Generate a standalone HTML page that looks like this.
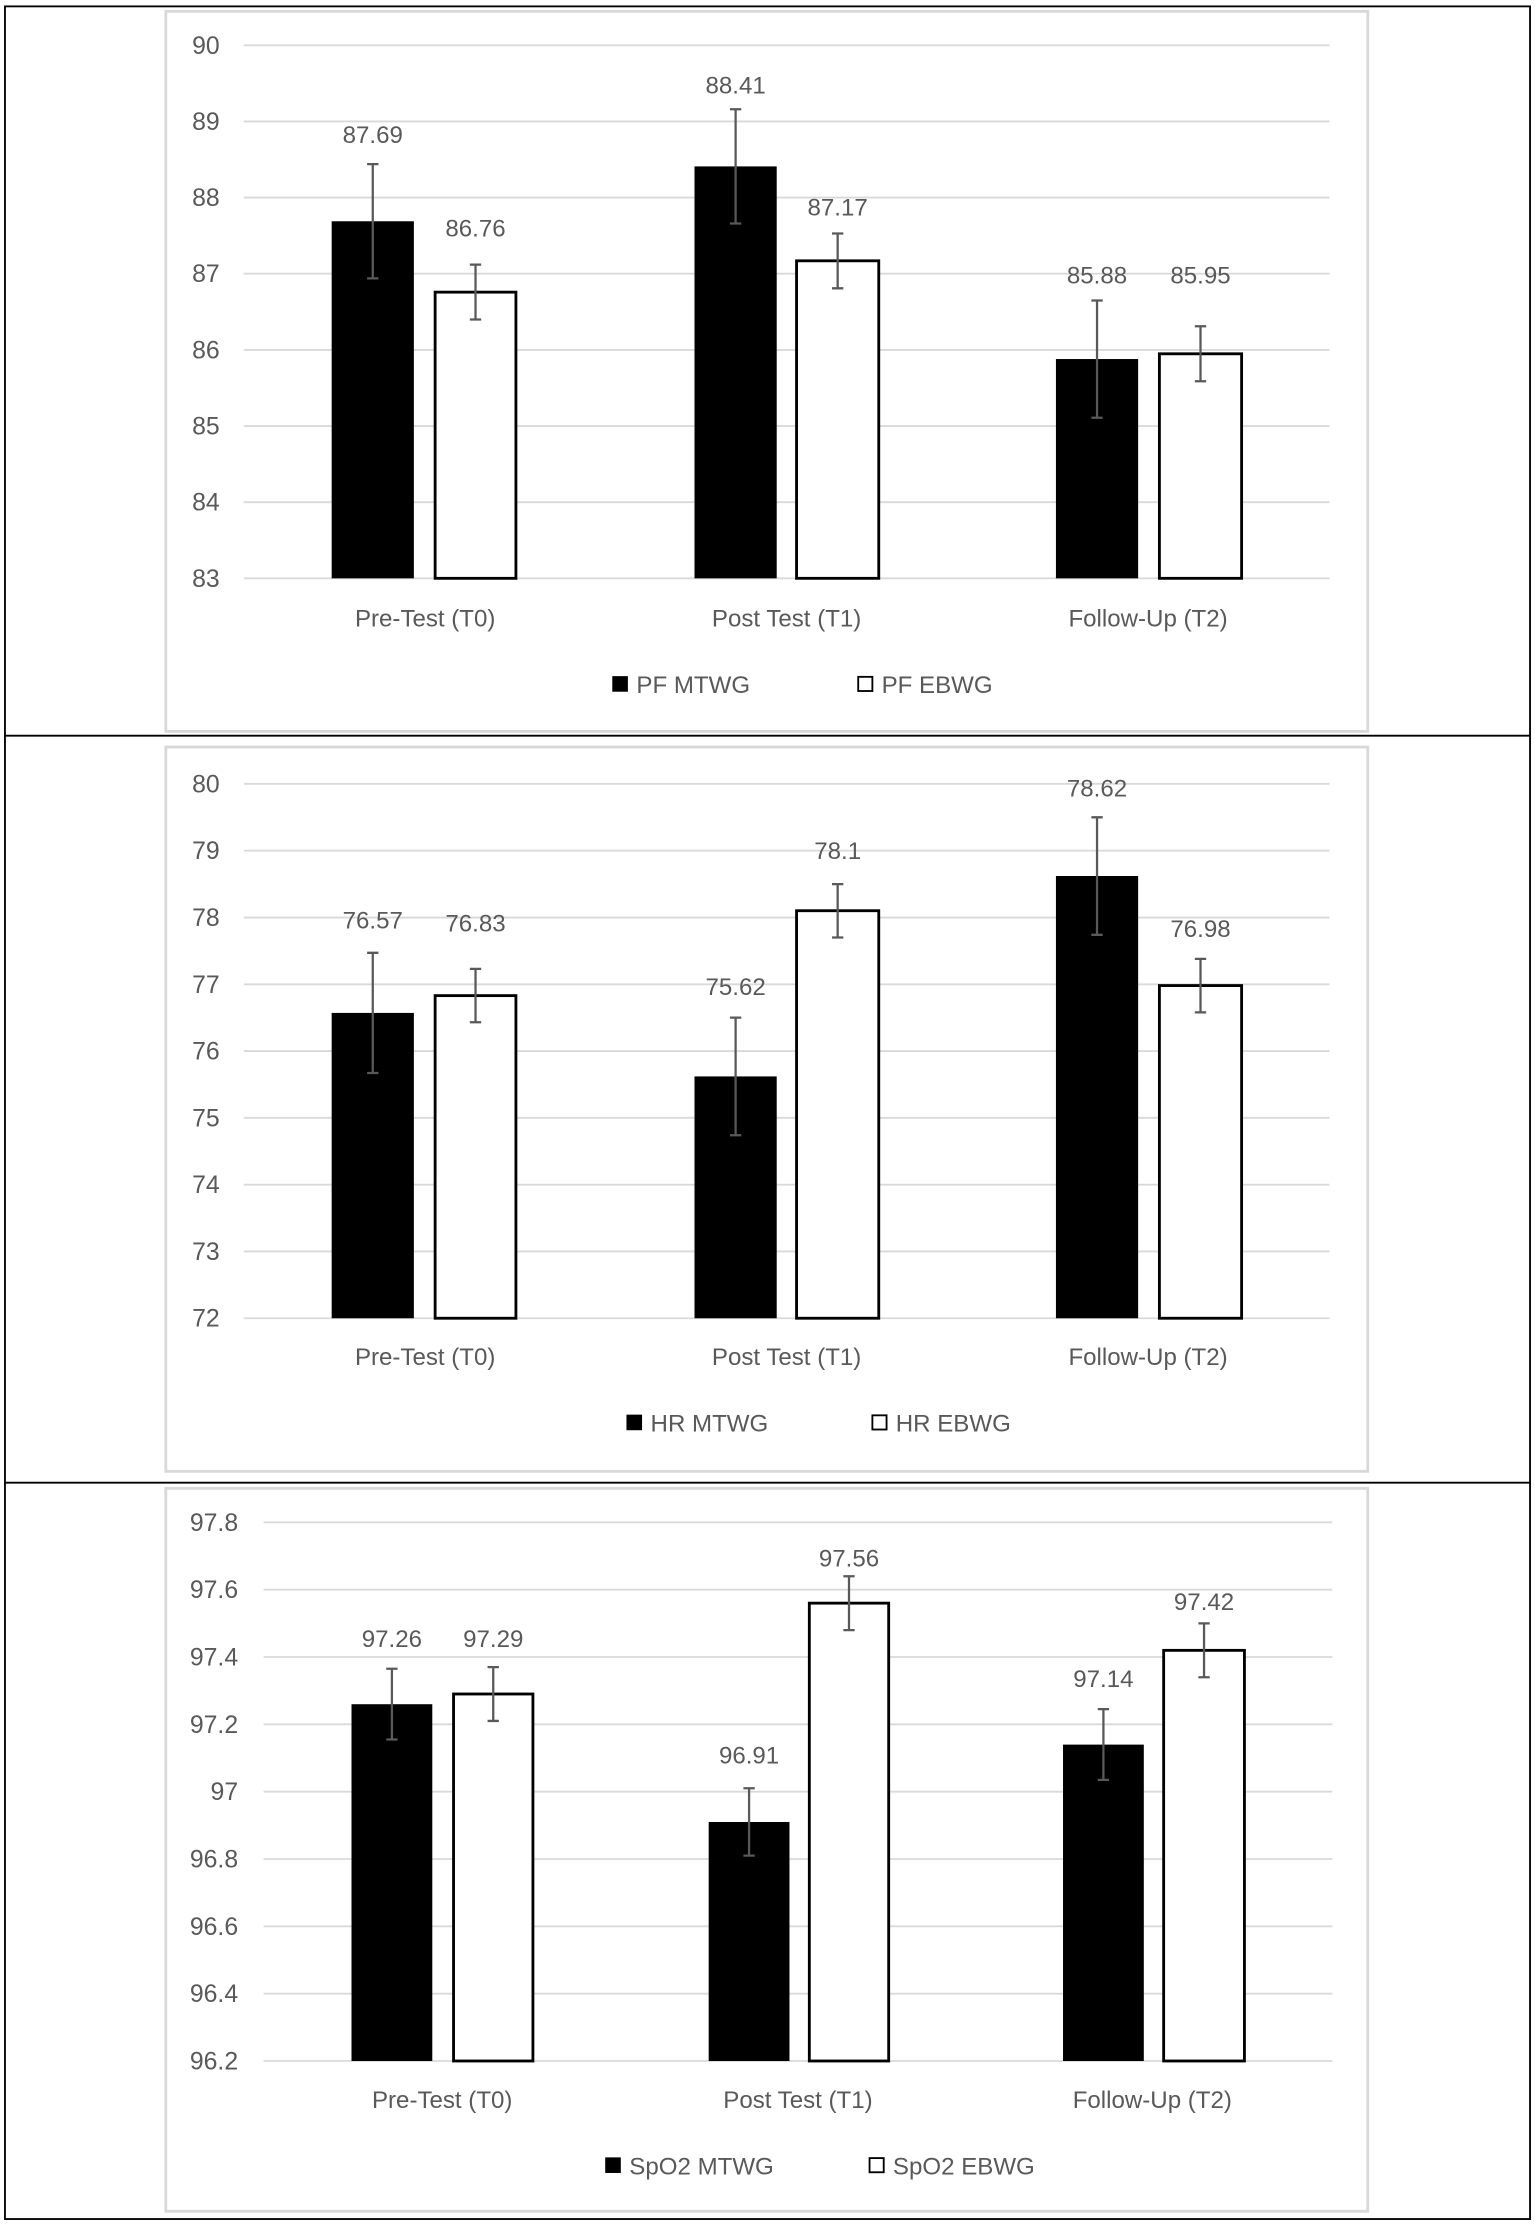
<!DOCTYPE html>
<html><head><meta charset="utf-8"><style>
html,body{margin:0;padding:0;background:#fff;}
svg{display:block;}
text{font-family:"Liberation Sans",sans-serif;fill:#595959;font-size:17px;}
.t{text-anchor:end;font-size:17.5px;}
.c{text-anchor:middle;}
.g{stroke:#d9d9d9;stroke-width:1.3;}
.b{fill:#000;}
.w{fill:#fff;stroke:#000;stroke-width:2;}
.e{stroke:#595959;stroke-width:1.6;fill:none;}
.box{fill:none;stroke:#d9d9d9;stroke-width:2;}
</style></head><body>
<svg width="1535" height="2224" viewBox="0 0 1083 1569" preserveAspectRatio="none">
<rect x="3.5" y="4.5" width="1076" height="1561" fill="none" stroke="#000" stroke-width="1.3"/>
<line x1="3" y1="519" x2="1080" y2="519" stroke="#000" stroke-width="1.3"/>
<line x1="3" y1="1046" x2="1080" y2="1046" stroke="#000" stroke-width="1.3"/>

<!-- Chart 1 -->
<rect class="box" x="117" y="8" width="848" height="508"/>
<g>
<line class="g" x1="172" y1="32" x2="938" y2="32"/><line class="g" x1="172" y1="85.7" x2="938" y2="85.7"/>
<line class="g" x1="172" y1="139.4" x2="938" y2="139.4"/><line class="g" x1="172" y1="193.1" x2="938" y2="193.1"/>
<line class="g" x1="172" y1="246.9" x2="938" y2="246.9"/><line class="g" x1="172" y1="300.6" x2="938" y2="300.6"/>
<line class="g" x1="172" y1="354.3" x2="938" y2="354.3"/><line class="g" x1="172" y1="408" x2="938" y2="408"/>
<text class="t" x="155" y="38">90</text><text class="t" x="155" y="91.7">89</text><text class="t" x="155" y="145.4">88</text>
<text class="t" x="155" y="199.1">87</text><text class="t" x="155" y="252.9">86</text><text class="t" x="155" y="306.6">85</text>
<text class="t" x="155" y="360.3">84</text><text class="t" x="155" y="414">83</text>
<rect class="b" x="234" y="156.1" width="58" height="251.9"/><rect class="w" x="307" y="206.1" width="57" height="201.9"/>
<rect class="b" x="490" y="117.4" width="58" height="290.6"/><rect class="w" x="562" y="184" width="58" height="224"/>
<rect class="b" x="745" y="253.3" width="58" height="154.7"/><rect class="w" x="818" y="249.6" width="58" height="158.4"/>
<path class="e" d="M263 115.8V196.4M259 115.8h8M259 196.4h8"/>
<path class="e" d="M335.5 186.7V225.4M331.5 186.7h8M331.5 225.4h8"/>
<path class="e" d="M519 77.1V157.7M515 77.1h8M515 157.7h8"/>
<path class="e" d="M591 164.7V203.4M587 164.7h8M587 203.4h8"/>
<path class="e" d="M774 212V294.7M770 212h8M770 294.7h8"/>
<path class="e" d="M847 230.2V269M843 230.2h8M843 269h8"/>
<text class="c" x="263" y="101">87.69</text><text class="c" x="335.5" y="167">86.76</text>
<text class="c" x="519" y="66">88.41</text><text class="c" x="591" y="152">87.17</text>
<text class="c" x="774" y="200">85.88</text><text class="c" x="847" y="200">85.95</text>
<text class="c" x="300" y="442">Pre-Test (T0)</text><text class="c" x="555" y="442">Post Test (T1)</text><text class="c" x="810" y="442">Follow-Up (T2)</text>
<rect x="432" y="477" width="11" height="11" fill="#000"/><text x="449" y="489">PF MTWG</text>
<rect x="605.5" y="477.5" width="10" height="10" fill="#fff" stroke="#000" stroke-width="1.3"/><text x="622" y="489">PF EBWG</text>
</g>

<!-- Chart 2 -->
<rect class="box" x="117" y="527" width="848" height="511"/>
<g>
<line class="g" x1="172" y1="553" x2="938" y2="553"/><line class="g" x1="172" y1="600.1" x2="938" y2="600.1"/>
<line class="g" x1="172" y1="647.3" x2="938" y2="647.3"/><line class="g" x1="172" y1="694.4" x2="938" y2="694.4"/>
<line class="g" x1="172" y1="741.5" x2="938" y2="741.5"/><line class="g" x1="172" y1="788.6" x2="938" y2="788.6"/>
<line class="g" x1="172" y1="835.8" x2="938" y2="835.8"/><line class="g" x1="172" y1="882.9" x2="938" y2="882.9"/>
<line class="g" x1="172" y1="930" x2="938" y2="930"/>
<text class="t" x="155" y="559">80</text><text class="t" x="155" y="606.1">79</text><text class="t" x="155" y="653.3">78</text>
<text class="t" x="155" y="700.4">77</text><text class="t" x="155" y="747.5">76</text><text class="t" x="155" y="794.6">75</text>
<text class="t" x="155" y="841.8">74</text><text class="t" x="155" y="888.9">73</text><text class="t" x="155" y="936">72</text>
<rect class="b" x="234" y="714.6" width="58" height="215.4"/><rect class="w" x="307" y="702.4" width="57" height="227.6"/>
<rect class="b" x="490" y="759.4" width="58" height="170.6"/><rect class="w" x="562" y="642.5" width="58" height="287.5"/>
<rect class="b" x="745" y="618" width="58" height="312"/><rect class="w" x="818" y="695.3" width="58" height="234.7"/>
<path class="e" d="M263 672.2V757M259 672.2h8M259 757h8"/>
<path class="e" d="M335.5 683.5V721.2M331.5 683.5h8M331.5 721.2h8"/>
<path class="e" d="M519 717.9V800.9M515 717.9h8M515 800.9h8"/>
<path class="e" d="M591 623.7V661.4M587 623.7h8M587 661.4h8"/>
<path class="e" d="M774 576.6V659.5M770 576.6h8M770 659.5h8"/>
<path class="e" d="M847 676.5V714.2M843 676.5h8M843 714.2h8"/>
<text class="c" x="263" y="655">76.57</text><text class="c" x="335.5" y="657">76.83</text>
<text class="c" x="519" y="702">75.62</text><text class="c" x="591" y="606">78.1</text>
<text class="c" x="774" y="562">78.62</text><text class="c" x="847" y="661">76.98</text>
<text class="c" x="300" y="963">Pre-Test (T0)</text><text class="c" x="555" y="963">Post Test (T1)</text><text class="c" x="810" y="963">Follow-Up (T2)</text>
<rect x="442" y="998" width="11" height="11" fill="#000"/><text x="459" y="1010">HR MTWG</text>
<rect x="615.5" y="998.5" width="10" height="10" fill="#fff" stroke="#000" stroke-width="1.3"/><text x="632" y="1010">HR EBWG</text>
</g>

<!-- Chart 3 -->
<rect class="box" x="117" y="1050" width="848" height="510"/>
<g>
<line class="g" x1="186" y1="1074" x2="940" y2="1074"/><line class="g" x1="186" y1="1121.5" x2="940" y2="1121.5"/>
<line class="g" x1="186" y1="1169" x2="940" y2="1169"/><line class="g" x1="186" y1="1216.5" x2="940" y2="1216.5"/>
<line class="g" x1="186" y1="1264" x2="940" y2="1264"/><line class="g" x1="186" y1="1311.5" x2="940" y2="1311.5"/>
<line class="g" x1="186" y1="1359" x2="940" y2="1359"/><line class="g" x1="186" y1="1406.5" x2="940" y2="1406.5"/>
<line class="g" x1="186" y1="1454" x2="940" y2="1454"/>
<text class="t" x="168" y="1080">97.8</text><text class="t" x="168" y="1127.5">97.6</text><text class="t" x="168" y="1175">97.4</text>
<text class="t" x="168" y="1222.5">97.2</text><text class="t" x="168" y="1270">97</text><text class="t" x="168" y="1317.5">96.8</text>
<text class="t" x="168" y="1365">96.6</text><text class="t" x="168" y="1412.5">96.4</text><text class="t" x="168" y="1460">96.2</text>
<rect class="b" x="248" y="1202.3" width="57" height="251.7"/><rect class="w" x="320" y="1195.1" width="56" height="258.9"/>
<rect class="b" x="500" y="1285.4" width="57" height="168.6"/><rect class="w" x="571" y="1131" width="56" height="323"/>
<rect class="b" x="750" y="1230.8" width="57" height="223.2"/><rect class="w" x="821" y="1164.3" width="57" height="289.7"/>
<path class="e" d="M276.5 1177.3V1227.2M272.5 1177.3h8M272.5 1227.2h8"/>
<path class="e" d="M348 1176.1V1214.1M344 1176.1h8M344 1214.1h8"/>
<path class="e" d="M528.5 1261.6V1309.1M524.5 1261.6h8M524.5 1309.1h8"/>
<path class="e" d="M599 1112V1150M595 1112h8M595 1150h8"/>
<path class="e" d="M778.5 1205.8V1255.7M774.5 1205.8h8M774.5 1255.7h8"/>
<path class="e" d="M849.5 1145.3V1183.3M845.5 1145.3h8M845.5 1183.3h8"/>
<text class="c" x="276.5" y="1162">97.26</text><text class="c" x="348" y="1162">97.29</text>
<text class="c" x="528.5" y="1244">96.91</text><text class="c" x="599" y="1105">97.56</text>
<text class="c" x="778.5" y="1190">97.14</text><text class="c" x="849.5" y="1136">97.42</text>
<text class="c" x="312" y="1487">Pre-Test (T0)</text><text class="c" x="563" y="1487">Post Test (T1)</text><text class="c" x="813" y="1487">Follow-Up (T2)</text>
<rect x="427" y="1522" width="11" height="11" fill="#000"/><text x="444" y="1534">SpO2 MTWG</text>
<rect x="613.5" y="1522.5" width="10" height="10" fill="#fff" stroke="#000" stroke-width="1.3"/><text x="630" y="1534">SpO2 EBWG</text>
</g>
</svg>
</body></html>
